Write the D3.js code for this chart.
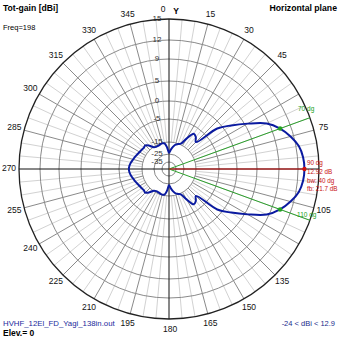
<!DOCTYPE html>
<html><head><meta charset="utf-8">
<script src="https://cdn.jsdelivr.net/npm/d3@7"></script>
<style>
html,body{margin:0;padding:0;background:#fff;}
svg{display:block;font-family:Arial,"Liberation Sans",sans-serif;}
</style></head>
<body>
<svg id="c" width="339" height="339"></svg>
<script>
// ---- data ----
const azimuthDeg = [0,5,10,15,20,25,30,35,40,45,50,55,60,65,70,75,80,85,
  90,95,100,105,110,115,120,125,130,135,140,145,150,155,160,165,170,175,
  180,185,190,195,200,205,210,215,220,225,230,235,240,245,250,255,260,265,
  270,275,280,285,290,295,300,305,310,315,320,325,330,335,340,345,350,355];
const gainDbi = [-24.0,-21.5,-18.8,-16.5,-15.4,-14.6,-11.5,-8.0,-8.6,-10.2,-1.4,2.0,5.5,8.6,10.3,11.5,12.4,12.8,
  12.92,12.8,12.4,11.5,10.3,8.6,5.5,2.0,-1.4,-10.2,-8.6,-8.0,-11.5,-14.6,-15.4,-16.5,-18.8,-21.5,
  -24.0,-19.5,-15.8,-15.4,-15.8,-16.2,-16.2,-15.4,-13.5,-12.2,-12.4,-12.2,-12.0,-11.6,-11.1,-10.6,-10.0,-9.5,
  -9.3,-9.5,-10.0,-10.6,-11.1,-11.6,-12.0,-12.2,-12.4,-12.2,-13.5,-15.4,-16.2,-16.2,-15.8,-15.4,-15.8,-19.5];
const ringDbi = [15,12,9,5,0,-5,-15,-25,-35];
const angleLabelDeg = [0,15,30,45,75,105,135,150,165,180,195,210,225,240,255,270,285,300,315,330,345];
const beamDeg = [70,110];
const maxDeg = 90;
const annoRed = ["90 dg","12.92 dB","bw: 40 dg","fb: 21.7 dB"];
const titleLeft = "Tot-gain [dBi]";
const titleRight = "Horizontal plane";
const freqText = "Freq=198";
const fileText = "HVHF_12El_FD_Yagi_138in.out";
const elevText = "Elev.= 0";
const rangeText = "-24 < dBi < 12.9";

// ---- layout ----
const svg = d3.select("#c");
const cx = 169, cy = 169, R = 150;
const r = d3.scaleLinear()
  .domain([-35,-25,-15,-5,0,5,9,12,15])
  .range([7,15,27,50,68,88,110,129,150])
  .clamp(true);
const rad = d => d*Math.PI/180;
const px = (a, rr) => cx + rr*Math.sin(rad(a));
const py = (a, rr) => cy - rr*Math.cos(rad(a));

const g = svg.append("g");

// spokes every 5 deg (light) and 15 deg (darker)
const spokeStart = r(-15);
d3.range(0,360,5).forEach(a => {
  if (a % 90 === 0) return;
  const major = a % 15 === 0;
  g.append("line")
    .attr("x1", px(a, spokeStart)).attr("y1", py(a, spokeStart))
    .attr("x2", px(a, R)).attr("y2", py(a, R))
    .attr("stroke", major ? "#8a8a8a" : "#d2d2d2")
    .attr("stroke-width", 1);
});

// rings
ringDbi.forEach((d,i) => {
  g.append("circle").attr("cx", cx).attr("cy", cy).attr("r", r(d))
    .attr("fill","none")
    .attr("stroke", i === 0 ? "#222" : "#8a8a8a")
    .attr("stroke-width", i === 0 ? 1.3 : 1);
});

// axes
g.append("line").attr("x1", cx-R).attr("y1", cy).attr("x2", cx+R).attr("y2", cy)
  .attr("stroke","#111").attr("stroke-width",1);
g.append("line").attr("x1", cx).attr("y1", cy-R).attr("x2", cx).attr("y2", cy+R)
  .attr("stroke","#111").attr("stroke-width",1);

// ring labels
ringDbi.forEach(d => {
  g.append("text").attr("x", cx-12).attr("y", cy - r(d))
    .attr("text-anchor","middle").attr("dominant-baseline","middle")
    .attr("font-size", 8).attr("fill","#333").text(d);
});

// angle labels
angleLabelDeg.forEach(a => {
  let x = px(a, 160), y = py(a, 160), anchor = "middle";
  if (a === 0) { x = cx - 6; y = 10; }
  if (a === 180) { x = cx - 6; y = 330; anchor = "start"; }
  g.append("text").attr("x", x).attr("y", y)
    .attr("text-anchor", anchor).attr("dominant-baseline","middle")
    .attr("font-size", 8.5).attr("fill","#111").text(a);
});
g.append("text").attr("x", cx+7).attr("y", 12).attr("text-anchor","middle")
  .attr("dominant-baseline","middle").attr("font-size",8.5).attr("font-weight","bold").text("Y");

// beamwidth lines (green)
beamDeg.forEach(a => {
  g.append("line").attr("x1", cx).attr("y1", cy)
    .attr("x2", px(a, R)).attr("y2", py(a, R))
    .attr("stroke","#2ca02c").attr("stroke-width",1);
});
// max line (red)
const maxGain = gainDbi[azimuthDeg.indexOf(maxDeg)];
g.append("line").attr("x1", cx).attr("y1", cy)
  .attr("x2", px(maxDeg, r(maxGain))).attr("y2", py(maxDeg, r(maxGain)))
  .attr("stroke","#d01010").attr("stroke-width",1);

// pattern
const pts = azimuthDeg.map((a,i) => [rad(a), r(gainDbi[i])]);
const line = d3.lineRadial().curve(d3.curveCatmullRomClosed.alpha(0.5));
g.append("path").attr("transform", `translate(${cx},${cy})`)
  .attr("d", line(pts)).attr("fill","none")
  .attr("stroke","#0a1aa0").attr("stroke-width",2);

// markers
beamDeg.forEach(a => {
  const gv = gainDbi[azimuthDeg.indexOf(a)];
  g.append("circle").attr("cx", px(a, r(gv))).attr("cy", py(a, r(gv))).attr("r", 2.2)
    .attr("fill","#22a022");
});
g.append("circle").attr("cx", px(maxDeg, r(maxGain))).attr("cy", py(maxDeg, r(maxGain)))
  .attr("r", 2.2).attr("fill","#d01010");

// beam labels
g.append("text").attr("x", 298).attr("y", 111).attr("font-size",6.5).attr("fill","#22a022").text(beamDeg[0]+" dg");
g.append("text").attr("x", 297).attr("y", 217).attr("font-size",6.5).attr("fill","#22a022").text(beamDeg[1]+" dg");

// red annotations
const redY = [165, 174, 183, 191];
annoRed.forEach((t,i) => {
  g.append("text").attr("x", 307).attr("y", redY[i]).attr("font-size",6.3)
    .attr("fill","#c81010").text(t);
});

// titles and footer
svg.append("text").attr("x",3).attr("y",11).attr("font-size",8.6).attr("font-weight","bold").text(titleLeft);
svg.append("text").attr("x",337).attr("y",11).attr("text-anchor","end").attr("font-size",8.7).attr("font-weight","bold").text(titleRight);
svg.append("text").attr("x",3).attr("y",30).attr("font-size",7.5).text(freqText);
svg.append("text").attr("x",3).attr("y",326).attr("font-size",7.8).attr("fill","#1a2a9c").text(fileText);
svg.append("text").attr("x",3).attr("y",336).attr("font-size",8.5).attr("font-weight","bold").text(elevText);
svg.append("text").attr("x",335).attr("y",326).attr("text-anchor","end").attr("font-size",7.5).attr("fill","#1a2a8c").text(rangeText);
</script>
</body></html>
